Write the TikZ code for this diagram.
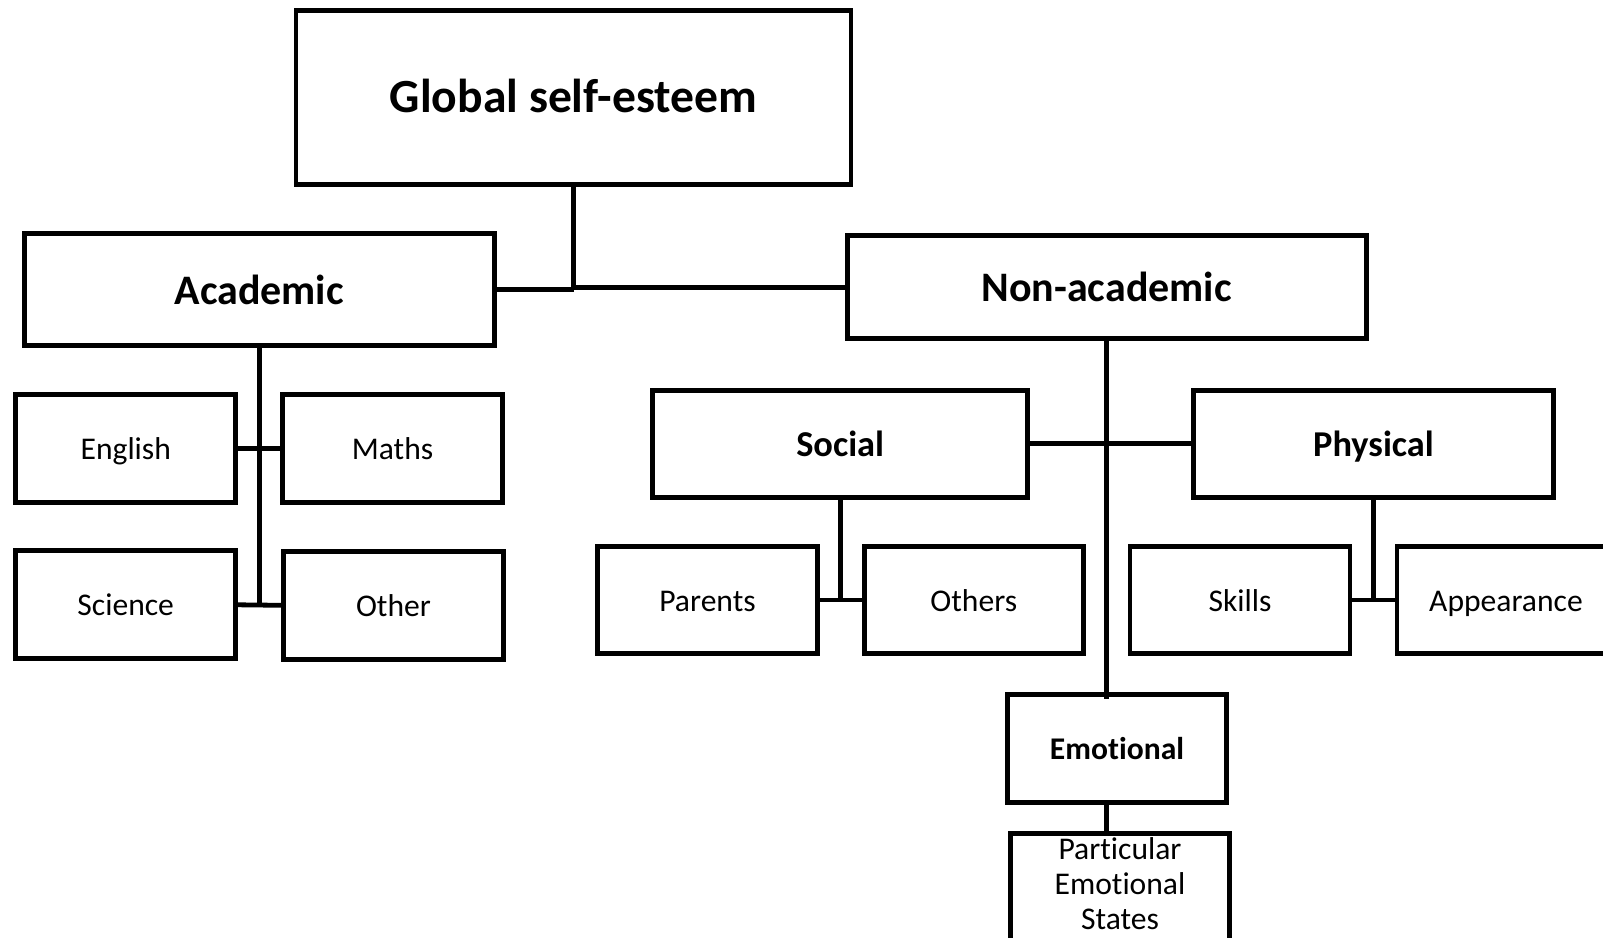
\documentclass[tikz,border=0pt]{standalone}
\usepackage{fontspec}
\setmainfont{Carlito}[Ligatures=NoCommon, RawFeature={-liga;-clig;-calt}]
\usetikzlibrary{calc}

% sizes are given in pixels: 1px = 0.5pt
% each label keeps a fixed line box so that baselines line up along a row
\tikzset{
  box/.style 2 args={draw, line width=2.4pt, inner sep=0pt,
    minimum width=#1*0.5pt, minimum height=#2*0.5pt, align=center},
  link/.style={line width=2.4pt},
  toplabel/.style={font=\fontsize{23.8}{28}\selectfont\bfseries,
    text height=19.5pt, text depth=4.3pt},
  mainlabel/.style={font=\fontsize{21}{25}\selectfont\bfseries,
    text height=17.85pt, text depth=3.15pt},
  sublabel/.style={font=\fontsize{18.2}{22}\selectfont\bfseries,
    text height=15.47pt, text depth=2.73pt},
  leaflabel/.style={font=\fontsize{15.8}{19}\selectfont,
    text height=13.43pt, text depth=2.37pt},
  leafbold/.style={font=\fontsize{15.8}{19}\selectfont\bfseries,
    text height=13.43pt, text depth=2.37pt},
}

\begin{document}
\begin{tikzpicture}[x=0.5pt, y=-0.5pt]
\useasboundingbox (0,0) rectangle (1603,938);
\clip (0,0) rectangle (1603,938);

% top level
\node[box={555}{174}, toplabel] (global) at (573.5,97.6) {Global self-esteem};

% academic branch
\node[box={470}{112}, mainlabel] (academic) at (259.2,289.8) {Academic};
\node[box={220}{108}, leaflabel] (english) at (125.8,448.3) {English};
\node[box={220}{108}, leaflabel] (maths)   at (392.5,448.3) {Maths};
\node[box={220}{108}, leaflabel] (science) at (125.7,604.8) {Science};
\node[box={220}{108}, leaflabel] (other)   at (393.5,605.3) {Other};

% non-academic branch
\node[box={519}{103}, mainlabel] (nonacad) at (1106.6,287.2) {Non-academic};
\node[box={375}{107}, sublabel] (social)   at (840.2,443.7) {Social};
\node[box={360}{107}, sublabel] (physical) at (1373.5,443.7) {Physical};
\node[box={220}{107}, leaflabel] (parents) at (707.5,600) {Parents};
\node[box={219}{107}, leaflabel] (others)  at (973.8,600) {Others};
\node[box={220}{107}, leaflabel] (skills)  at (1240,600) {Skills};
\node[box={218}{107}, leaflabel] (appearance) at (1506,600) {Appearance};
\node[box={219}{108}, leafbold] (emotional) at (1117,748.5) {Emotional};
\node[box={219}{150}, anchor=north] (partic) at (1120,831) {};
\node[align=center, inner sep=0pt,
      font=\fontsize{15.8}{17.6}\selectfont] (partictext) at (1120,883.5)
  {Particular\\Emotional\\States};

% connectors from the top box
\draw[link] (global.south) -- (academic.east -| global.south);
\draw[link] (academic.east) -- (academic.east -| global.south);
\draw[link] (nonacad.west) -- (nonacad.west -| global.south);

% academic subjects
\draw[link] (academic.south) -- (academic.south |- science.east);
\draw[link] (english.east) -- (maths.west);
\draw[link] (science.east) -- (other.west);

% non-academic spine down to the emotional box
\draw[link] (nonacad.south) -- ([yshift=-3.2pt]nonacad.south |- emotional.north);
\draw[link] (social.east) -- (physical.west);
\draw[link] (social.south) -- (social.south |- parents.east);
\draw[link] (parents.east) -- (others.west);
\draw[link] (physical.south) -- (physical.south |- skills.east);
\draw[link] (skills.east) -- (appearance.west);
\draw[link] (nonacad.south |- emotional.south) -- (nonacad.south |- partic.north);
\end{tikzpicture}
\end{document}
